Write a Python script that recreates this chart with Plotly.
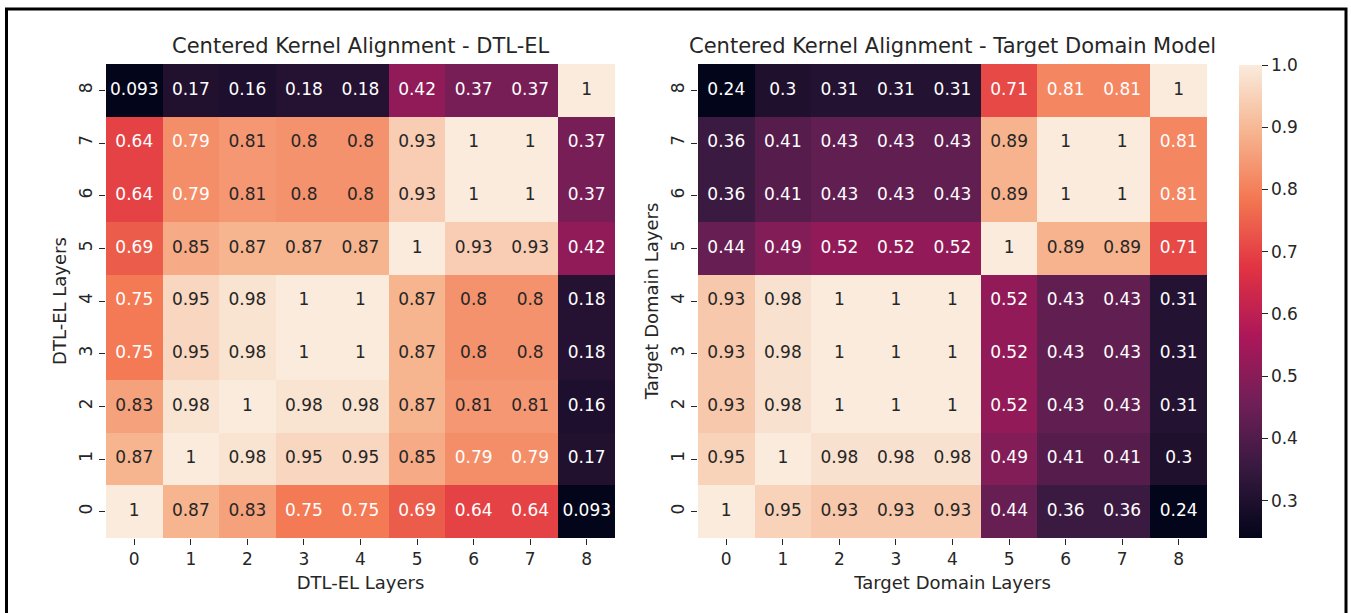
import plotly.graph_objects as go

layers = [0, 1, 2, 3, 4, 5, 6, 7, 8]
tick_labels = ["0", "1", "2", "3", "4", "5", "6", "7", "8"]

# rows ordered from layer 0 (bottom) to layer 8 (top)
cka_dtl_el = [
    [1, 0.87, 0.83, 0.75, 0.75, 0.69, 0.64, 0.64, 0.093],
    [0.87, 1, 0.98, 0.95, 0.95, 0.85, 0.79, 0.79, 0.17],
    [0.83, 0.98, 1, 0.98, 0.98, 0.87, 0.81, 0.81, 0.16],
    [0.75, 0.95, 0.98, 1, 1, 0.87, 0.8, 0.8, 0.18],
    [0.75, 0.95, 0.98, 1, 1, 0.87, 0.8, 0.8, 0.18],
    [0.69, 0.85, 0.87, 0.87, 0.87, 1, 0.93, 0.93, 0.42],
    [0.64, 0.79, 0.81, 0.8, 0.8, 0.93, 1, 1, 0.37],
    [0.64, 0.79, 0.81, 0.8, 0.8, 0.93, 1, 1, 0.37],
    [0.093, 0.17, 0.16, 0.18, 0.18, 0.42, 0.37, 0.37, 1],
]

cka_target = [
    [1, 0.95, 0.93, 0.93, 0.93, 0.44, 0.36, 0.36, 0.24],
    [0.95, 1, 0.98, 0.98, 0.98, 0.49, 0.41, 0.41, 0.3],
    [0.93, 0.98, 1, 1, 1, 0.52, 0.43, 0.43, 0.31],
    [0.93, 0.98, 1, 1, 1, 0.52, 0.43, 0.43, 0.31],
    [0.93, 0.98, 1, 1, 1, 0.52, 0.43, 0.43, 0.31],
    [0.44, 0.49, 0.52, 0.52, 0.52, 1, 0.89, 0.89, 0.71],
    [0.36, 0.41, 0.43, 0.43, 0.43, 0.89, 1, 1, 0.81],
    [0.36, 0.41, 0.43, 0.43, 0.43, 0.89, 1, 1, 0.81],
    [0.24, 0.3, 0.31, 0.31, 0.31, 0.71, 0.81, 0.81, 1],
]

title_left = "Centered Kernel Alignment - DTL-EL"
title_right = "Centered Kernel Alignment - Target Domain Model"
axis_left = "DTL-EL Layers"
axis_right = "Target Domain Layers"
cbar_ticks = [0.3, 0.4, 0.5, 0.6, 0.7, 0.8, 0.9, 1.0]

# seaborn "rocket" colormap approximation
rocket_hex = ["#03051a", "#35193e", "#701f57", "#ad1759", "#e13342",
              "#f37651", "#f6b48f", "#faebdd"]
rocket = [[i / (len(rocket_hex) - 1), c] for i, c in enumerate(rocket_hex)]


def hex_rgb(h):
    h = h.lstrip("#")
    return [int(h[i:i + 2], 16) / 255 for i in (0, 2, 4)]


def cmap(t):
    t = min(max(t, 0), 1)
    n = len(rocket_hex) - 1
    i = min(int(t * n), n - 1)
    f = t * n - i
    a, b = hex_rgb(rocket_hex[i]), hex_rgb(rocket_hex[i + 1])
    return [a[k] + (b[k] - a[k]) * f for k in range(3)]


def luminance(rgb):
    lin = [c / 12.92 if c <= 0.03928 else ((c + 0.055) / 1.055) ** 2.4 for c in rgb]
    return 0.2126 * lin[0] + 0.7152 * lin[1] + 0.0722 * lin[2]


FONT = "DejaVu Sans"
W, H = 1351, 613
TXT = "#262626"
SMALL = 17
LABEL = 18
TITLE = 21


def px_x(p):
    return p / W


def px_y(p):
    return 1 - p / H


fig = go.Figure()


def add_panel(z, xa, ya, showscale):
    flat = [v for row in z for v in row]
    zmin, zmax = min(flat), max(flat)
    fig.add_trace(go.Heatmap(
        z=z, x=layers, y=layers, colorscale=rocket, zmin=zmin, zmax=zmax,
        xaxis=xa, yaxis=ya, showscale=showscale, hoverinfo="skip",
        colorbar=dict(
            x=px_x(1239), xanchor="left", y=px_y(538), yanchor="bottom",
            len=(538 - 65) / H, lenmode="fraction", thickness=23,
            xpad=0, ypad=0,
            outlinewidth=0, tickvals=cbar_ticks, ticktext=[f"{v:.1f}" for v in cbar_ticks],
            ticks="outside", ticklen=6, tickcolor=TXT,
            tickfont=dict(family=FONT, size=SMALL, color=TXT),
        ) if showscale else None,
    ))
    xs, ys, txt, cols = [], [], [], []
    for r, row in enumerate(z):
        for c, v in enumerate(row):
            xs.append(layers[c])
            ys.append(layers[r])
            txt.append(f"{v:.2g}")
            lum = luminance(cmap((v - zmin) / (zmax - zmin)))
            cols.append(TXT if lum > 0.408 else "#ffffff")
    fig.add_trace(go.Scatter(
        x=xs, y=ys, text=txt, mode="text", xaxis=xa, yaxis=ya,
        textfont=dict(family=FONT, size=SMALL, color=cols),
        hoverinfo="skip", showlegend=False,
    ))


add_panel(cka_dtl_el, "x", "y", False)
add_panel(cka_target, "x2", "y2", True)

axis_common = dict(
    tickmode="array", tickvals=layers, ticktext=tick_labels,
    ticks="outside", ticklen=6, tickwidth=1, tickcolor=TXT,
    tickfont=dict(family=FONT, size=SMALL, color=TXT),
    showgrid=False, zeroline=False, showline=False, range=[-0.5, 8.5],
    fixedrange=True,
)

ydom = [px_y(538), px_y(64)]
fig.update_layout(
    width=W, height=H, margin=dict(l=0, r=0, t=0, b=0),
    paper_bgcolor="white", plot_bgcolor="white", showlegend=False,
    font=dict(family=FONT, color=TXT),
    xaxis=dict(axis_common, domain=[px_x(106), px_x(615)], anchor="y",
               title=dict(text=axis_left, font=dict(family=FONT, size=LABEL, color=TXT), standoff=7)),
    yaxis=dict(axis_common, domain=ydom, anchor="x", tickangle=-90,
               title=dict(text=axis_left, font=dict(family=FONT, size=LABEL, color=TXT), standoff=4)),
    xaxis2=dict(axis_common, domain=[px_x(698), px_x(1207)], anchor="y2",
                title=dict(text=axis_right, font=dict(family=FONT, size=LABEL, color=TXT), standoff=7)),
    yaxis2=dict(axis_common, domain=ydom, anchor="x2", tickangle=-90,
                title=dict(text=axis_right, font=dict(family=FONT, size=LABEL, color=TXT), standoff=4)),
    annotations=[
        dict(text=title_left, x=(px_x(106) + px_x(615)) / 2, y=px_y(46),
             xref="paper", yref="paper", showarrow=False, xanchor="center",
             font=dict(family=FONT, size=TITLE, color=TXT), yanchor="middle"),
        dict(text=title_right, x=(px_x(698) + px_x(1207)) / 2, y=px_y(46),
             xref="paper", yref="paper", showarrow=False, xanchor="center",
             font=dict(family=FONT, size=TITLE, color=TXT), yanchor="middle"),
    ],
    shapes=[dict(type="rect", xref="paper", yref="paper",
                 x0=px_x(6.5), x1=px_x(1346), y0=-0.05, y1=px_y(9),
                 line=dict(color="black", width=3))],
)

fig.write_html("out.html", config={"displayModeBar": False},
               post_script="document.body.style.margin='0px';")
